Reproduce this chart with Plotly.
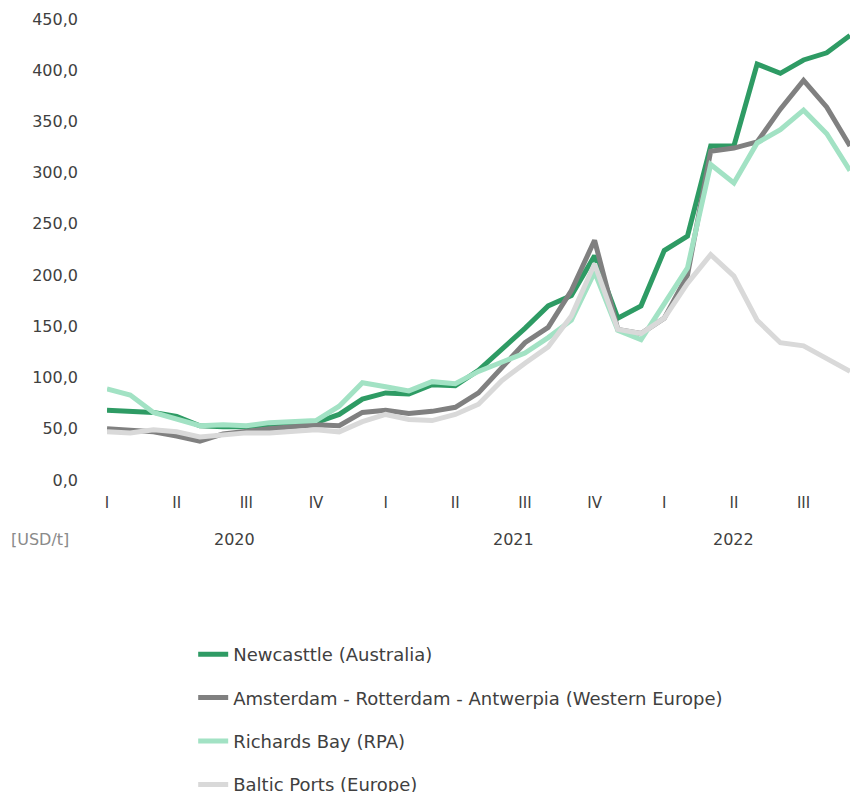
import plotly.graph_objects as go

months = list(range(33))  # Jan 2020 .. Sep 2022
quarter_pos = [0, 3, 6, 9, 12, 15, 18, 21, 24, 27, 30]
quarter_labels = ["I", "II", "III", "IV", "I", "II", "III", "IV", "I", "II", "III"]
year_labels = ["2020", "2021", "2022"]
year_pos = [5.5, 17.5, 27]

newcastle = [68, 67, 66, 62, 53, 52, 52, 54, 55, 56, 64, 79, 85, 84, 93, 92, 107, 127, 148, 170, 180, 219,
             158, 170, 224, 238, 326, 326, 406, 397, 410, 417, 434]
ara = [50, 48, 47, 43, 38, 45, 48, 50, 52, 54, 53, 66, 68, 65, 67, 71, 85, 109, 134, 149, 185, 234,
       147, 143, 158, 200, 321, 324, 330, 362, 390, 364, 326]
richards = [89, 83, 66, 59, 53, 54, 53, 56, 57, 58, 72, 95, 91, 87, 96, 94, 106, 115, 124, 139, 156, 203,
            146, 137, 171, 207, 308, 290, 329, 342, 361, 338, 302]
baltic = [47, 46, 49, 47, 42, 44, 46, 46, 47, 49, 47, 57, 64, 59, 58, 64, 74, 97, 114, 130, 160, 211,
          147, 143, 158, 192, 220, 199, 156, 134, 131, 119, 106]

series = [
    ("Newcasttle (Australia)", newcastle, "#2E9B64"),
    ("Amsterdam - Rotterdam - Antwerpia (Western Europe)", ara, "#808080"),
    ("Richards Bay (RPA)", richards, "#A2E2C4"),
    ("Baltic Ports (Europe)", baltic, "#D9D9D9"),
]

FONT = "DejaVu Sans"
fig = go.Figure()
for i, (name, vals, color) in enumerate(series):
    fig.add_trace(go.Scatter(x=months, y=vals, mode="lines", name=name,
                             line=dict(color=color, width=5), legendgroup=f"g{i}"))

annotations = [dict(x=xp, y=-0.13, xref="x", yref="paper", text=t, showarrow=False,
                    font=dict(size=16, color="#404040", family=FONT), xanchor="center", yanchor="middle")
               for t, xp in zip(year_labels, year_pos)]
annotations.append(dict(x=-0.09, y=-0.13, xref="paper", yref="paper", text="[USD/t]", showarrow=False,
                        font=dict(size=16, color="#8a8a8a", family=FONT), xanchor="center", yanchor="middle"))

fig.update_layout(
    width=853, height=792,
    margin=dict(l=107, r=3, t=19, b=312),
    paper_bgcolor="white", plot_bgcolor="white",
    separators=", ",
    font=dict(family=FONT, size=16, color="#404040"),
    showlegend=True,
    legend=dict(x=0.116, xref="paper", y=0.197, yref="container", xanchor="left", yanchor="top",
                orientation="v",
                font=dict(size=18, color="#404040", family=FONT), tracegroupgap=17,
                bgcolor="rgba(0,0,0,0)"),
    annotations=annotations,
    xaxis=dict(range=[0, 32], tickmode="array", tickvals=quarter_pos, ticktext=quarter_labels,
               showgrid=False, zeroline=False, showline=False, ticks="", ticklabelstandoff=12,
               tickfont=dict(size=15, color="#404040")),
    yaxis=dict(range=[0, 450], tickmode="array", tickvals=list(range(0, 451, 50)), tickformat=".1f",
               showgrid=False, zeroline=False, showline=False, ticks="", ticklabelstandoff=28,
               tickfont=dict(size=16, color="#404040")),
)

fig.write_html("out.html")
